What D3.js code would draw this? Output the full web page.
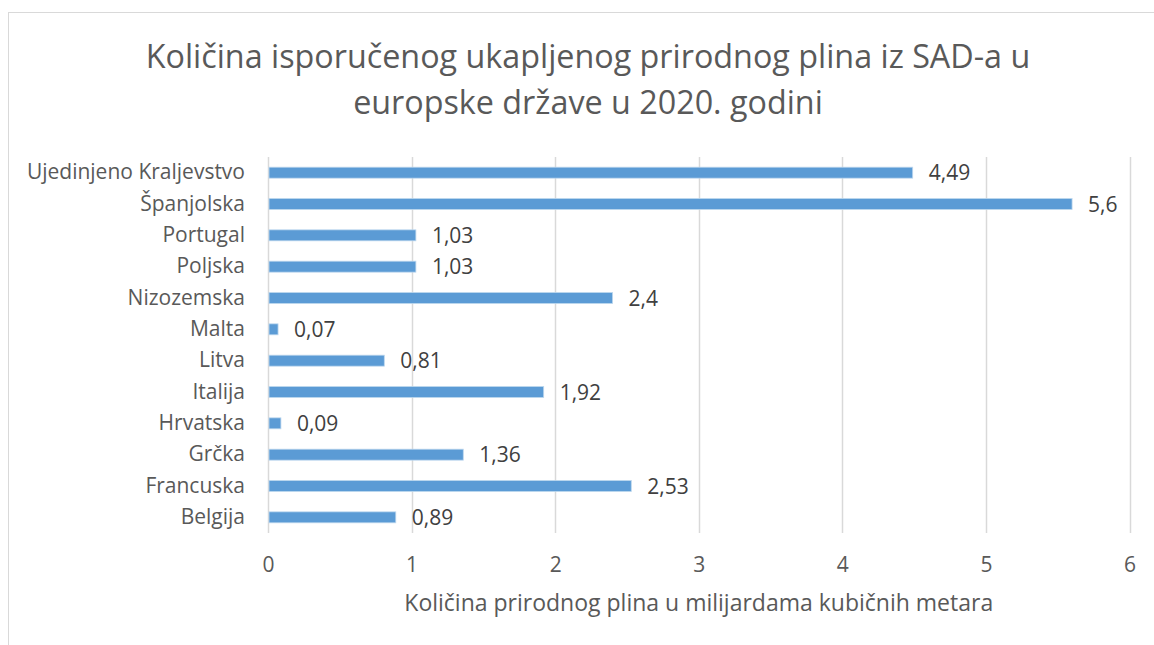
<!DOCTYPE html>
<html>
<head>
<meta charset="utf-8">
<script src="https://cdn.jsdelivr.net/npm/d3@7"></script>
<style>
  body { margin: 0; background: #fff; }
  svg { display: block; font-family: "Open Sans", sans-serif; }
</style>
</head>
<body>
<div id="chart"></div>
<script>
const countries = [
  'Ujedinjeno Kraljevstvo', 'Španjolska', 'Portugal', 'Poljska', 'Nizozemska', 'Malta',
  'Litva', 'Italija', 'Hrvatska', 'Grčka', 'Francuska', 'Belgija'
];
const volumes = [4.49, 5.6, 1.03, 1.03, 2.4, 0.07, 0.81, 1.92, 0.09, 1.36, 2.53, 0.89];
const xTicks = [0, 1, 2, 3, 4, 5, 6];
const titleLines = ['Količina isporučenog ukapljenog prirodnog plina iz SAD-a u', 'europske države u 2020. godini'];
const xTitle = 'Količina prirodnog plina u milijardama kubičnih metara';

const width = 1154, height = 645;
const svg = d3.select('#chart').append('svg')
  .attr('width', width)
  .attr('height', height)
  .attr('viewBox', `0 0 ${width} ${height}`);

// chart frame (right and bottom edges fall outside the picture)
svg.append('rect')
  .attr('x', 8.5).attr('y', 12.5)
  .attr('width', 1200).attr('height', 700)
  .attr('fill', '#fff')
  .attr('stroke', '#d9d9d9');

const x = d3.scaleLinear().domain([0, 6]).range([268, 1129.5]);
const y = d3.scaleBand().domain(countries).range([157, 533])
  .paddingInner(0.65).paddingOuter(0.325);

// title
svg.append('g').selectAll('text')
  .data(titleLines)
  .join('text')
  .attr('x', 588)
  .attr('y', (d, i) => 68 + i * 46)
  .attr('text-anchor', 'middle')
  .attr('font-size', 32.3)
  .attr('fill', '#595959')
  .text(d => d);

// gridlines
svg.append('g').selectAll('line')
  .data(xTicks)
  .join('line')
  .attr('x1', d => Math.round(x(d)) + 0.5)
  .attr('x2', d => Math.round(x(d)) + 0.5)
  .attr('y1', 157).attr('y2', 533)
  .attr('stroke', '#d9d9d9')
  .attr('stroke-width', 1.5);

// x axis tick labels
const xAxis = svg.append('g')
  .attr('transform', 'translate(0,545)')
  .call(d3.axisBottom(x).tickValues(xTicks).tickSize(0).tickPadding(0).tickFormat(d3.format('d')));
xAxis.select('.domain').remove();
xAxis.selectAll('text')
  .attr('dy', '0')
  .attr('y', 27)
  .attr('font-size', 21)
  .attr('font-family', '"Open Sans", sans-serif')
  .attr('fill', '#595959');

// category labels
const yAxis = svg.append('g')
  .attr('transform', 'translate(268,0)')
  .call(d3.axisLeft(y).tickSize(0).tickPadding(23));
yAxis.select('.domain').remove();
yAxis.selectAll('text')
  .attr('font-size', 21)
  .attr('font-family', '"Open Sans", sans-serif')
  .attr('fill', '#595959');

// bars
svg.append('g').selectAll('rect')
  .data(countries)
  .join('rect')
  .attr('x', x(0) + 1)
  .attr('y', d => y(d))
  .attr('width', (d, i) => x(volumes[i]) - x(0) - 1)
  .attr('height', y.bandwidth())
  .attr('fill', '#5b9bd5')
  .attr('stroke', '#bdd7ee')
  .attr('stroke-width', 0.8);

// value labels
const fmt = v => String(v).replace('.', ',');
svg.append('g').selectAll('text')
  .data(countries)
  .join('text')
  .attr('x', (d, i) => x(volumes[i]) + 16)
  .attr('y', d => y(d) + y.bandwidth() / 2)
  .attr('dy', '0.36em')
  .attr('font-size', 21)
  .attr('fill', '#404040')
  .text((d, i) => fmt(volumes[i]));

// x axis title
svg.append('text')
  .attr('x', (x(0) + x(6)) / 2)
  .attr('y', 611)
  .attr('text-anchor', 'middle')
  .attr('font-size', 23)
  .attr('fill', '#595959')
  .text(xTitle);
</script>
</body>
</html>
